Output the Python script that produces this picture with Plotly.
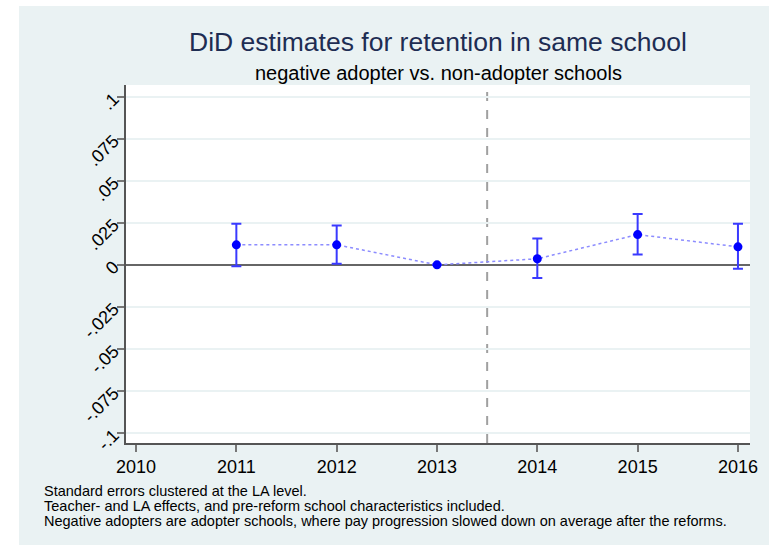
import plotly.graph_objects as go

# DiD point estimates and 95% CI bounds by year
years = [2011, 2012, 2013, 2014, 2015, 2016]
estimates = [0.0119, 0.0119, 0.0, 0.0036, 0.0180, 0.0107]
ci_upper = [0.0244, 0.0234, 0.0, 0.0157, 0.0302, 0.0244]
ci_lower = [-0.0008, 0.0006, 0.0, -0.0079, 0.0061, -0.0024]

x_ticks = [2010, 2011, 2012, 2013, 2014, 2015, 2016]
y_ticks = [0.1, 0.075, 0.05, 0.025, 0.0, -0.025, -0.05, -0.075, -0.1]
y_tick_text = [".1", ".075", ".05", ".025", "0", "-.025", "-.05", "-.075", "-.1"]
reform_line = 2013.5

notes = [
    "Standard errors clustered at the LA level.",
    "Teacher- and LA effects, and pre-reform school characteristics included.",
    "Negative adopters are adopter schools, where pay progression slowed down on average after the reforms.",
]

W, H = 773, 545
L, R, T, B = 126, 23, 85, 102
pw, ph = W - L - R, H - T - B

err_plus = [u - e for u, e in zip(ci_upper, estimates)]
err_minus = [e - l for e, l in zip(estimates, ci_lower)]

fig = go.Figure()
fig.add_trace(go.Scatter(
    x=years, y=estimates, mode="lines+markers",
    line=dict(color="#8c8cff", width=1.5, dash="dot"),
    marker=dict(color="#0000ff", size=9),
    error_y=dict(type="data", symmetric=False, array=err_plus, arrayminus=err_minus,
                 color="#3a3aff", thickness=2, width=5),
    showlegend=False, hoverinfo="skip",
))

def px_to_paper_x(px):
    return (px - L) / pw

def px_to_paper_y(py):
    return (H - B - py) / ph

shapes = [
    # light background panel
    dict(type="rect", xref="paper", yref="paper", layer="below",
         x0=px_to_paper_x(19), x1=px_to_paper_x(769),
         y0=px_to_paper_y(545), y1=px_to_paper_y(6),
         fillcolor="#eaf2f3", line=dict(width=0)),
    # white plotting region
    dict(type="rect", xref="paper", yref="paper", layer="below",
         x0=0, x1=1, y0=0, y1=1, fillcolor="white", line=dict(width=0)),
    # reform timing
    dict(type="line", xref="x", yref="paper", x0=reform_line, x1=reform_line, y0=0, y1=1,
         line=dict(color="#a0a0a0", width=2, dash="dash"), layer="below"),
]

annotations = [
    dict(text="DiD estimates for retention in same school", xref="paper", yref="paper",
         x=0.5, y=px_to_paper_y(42), xanchor="center", yanchor="middle", showarrow=False,
         font=dict(family="Liberation Sans, Arial", size=26.5, color="#1e2d53")),
    dict(text="negative adopter vs. non-adopter schools", xref="paper", yref="paper",
         x=0.5, y=px_to_paper_y(73), xanchor="center", yanchor="middle", showarrow=False,
         font=dict(family="Liberation Sans, Arial", size=20, color="#000000")),
]
for i, line in enumerate(notes):
    annotations.append(dict(
        text=line, xref="paper", yref="paper",
        x=px_to_paper_x(42), y=px_to_paper_y(491 + i * 15),
        xanchor="left", yanchor="middle", showarrow=False,
        font=dict(family="Liberation Sans, Arial", size=14.5, color="#000000"),
    ))

fig.update_layout(
    width=W, height=H,
    margin=dict(l=L, r=R, t=T, b=B),
    paper_bgcolor="white", plot_bgcolor="rgba(0,0,0,0)",
    shapes=shapes, annotations=annotations,
    xaxis=dict(range=[2009.9, 2016.12], tickvals=x_ticks, ticks="outside", ticklen=7,
               tickcolor="#777777", tickwidth=1.5, showgrid=False, zeroline=False,
               showline=True, linecolor="#555555", linewidth=1.5,
               tickfont=dict(family="Liberation Sans, Arial", size=18, color="#000000")),
    yaxis=dict(range=[-0.106, 0.107], tickvals=y_ticks, ticktext=y_tick_text, tickangle=-45,
               ticks="outside", ticklen=7, tickcolor="#777777", tickwidth=1.5,
               showgrid=True, gridcolor="#eaf2f3", gridwidth=1.5,
               zeroline=True, zerolinecolor="#666666", zerolinewidth=1.5,
               showline=True, linecolor="#555555", linewidth=1.5,
               tickfont=dict(family="Liberation Sans, Arial", size=18, color="#000000")),
)

fig.write_html("out.html")
